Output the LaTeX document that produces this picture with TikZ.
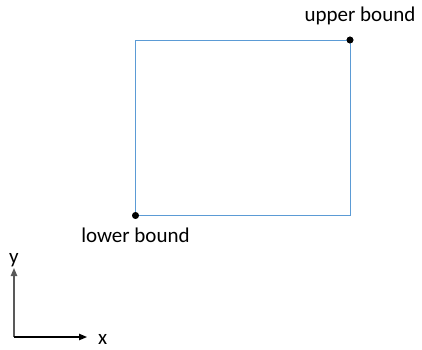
\documentclass[tikz,border=0pt]{standalone}
\usepackage{fontspec}
\setmainfont{Carlito}
\usetikzlibrary{arrows.meta,positioning}
\definecolor{boxblue}{RGB}{91,155,213}
\definecolor{axisgray}{RGB}{89,89,89}

\begin{document}
\begin{tikzpicture}[
  x=0.5pt, y=-0.5pt,
  font=\fontsize{10.5}{12}\selectfont,
  bound/.style={circle, fill=black, inner sep=0pt, minimum size=3.4pt},
  boxline/.style={draw=boxblue, line width=0.5pt},
  axis/.style={line width=0.6pt, -{Triangle[length=4pt, width=3.2pt]}}
]
  \useasboundingbox (0,0) rectangle (422,349);

  % box with its two corner points
  \node[bound] (lo) at (135.5,215.5) {};
  \node[bound] (up) at (350,40) {};
  \draw[boxline] (lo.center) rectangle (up.center);
  \node[bound] at (lo) {};
  \node[bound] at (up) {};

  \node[above=2pt of up, xshift=5pt] (uplabel) {upper bound};
  \node[below=1pt of lo] (lolabel) {lower bound};

  % axes
  \coordinate (O) at (14,337);
  \coordinate (ytip) at (14,268);
  \coordinate (xtip) at (87,337);
  \draw[axis, axisgray] (O) -- (ytip);
  \draw[axis, black] (O) -- (xtip);
  \node[above=-3pt of ytip] (ylabel) {y};
  \node[right=2pt of xtip, yshift=-1pt] (xlabel) {x};
\end{tikzpicture}
\end{document}
